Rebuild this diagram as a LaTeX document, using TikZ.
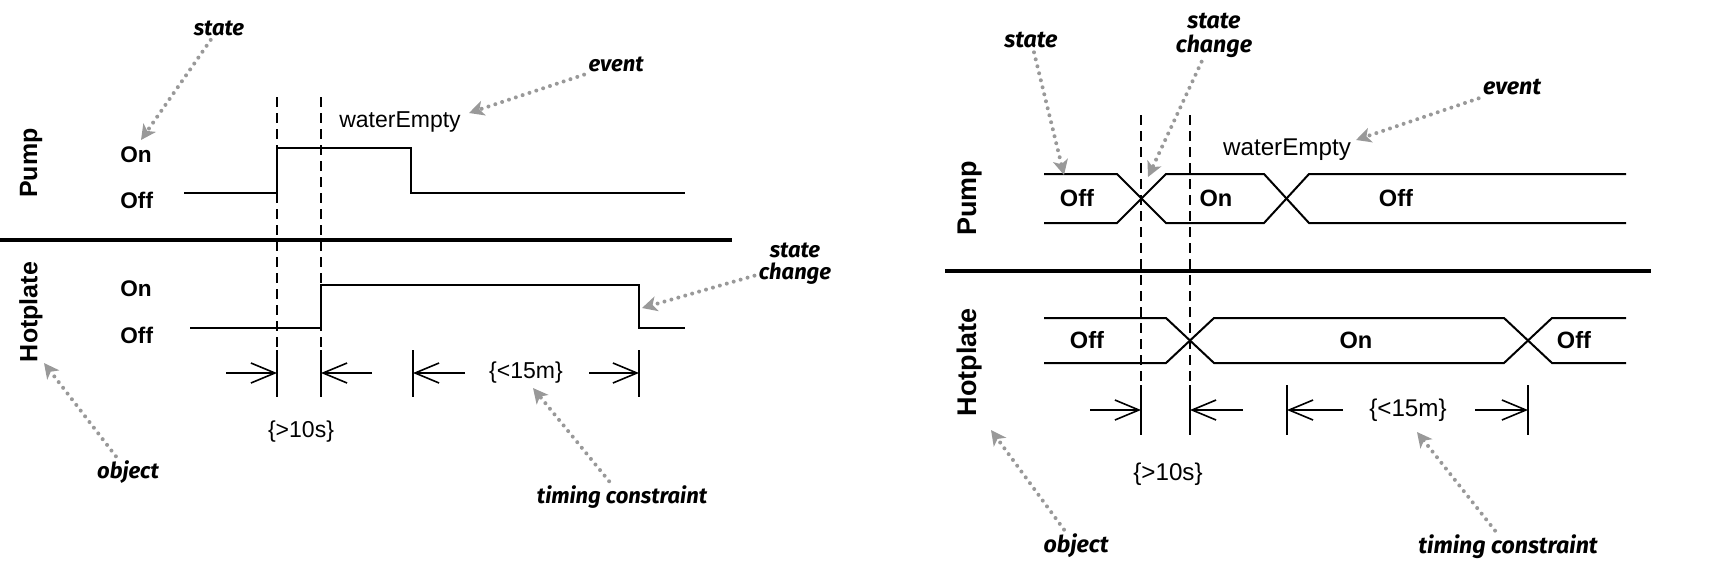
\documentclass[tikz,border=0pt]{standalone}
\usepackage{fontspec}
\setmainfont{Liberation Sans}
\newfontfamily\notefont{Fira Sans}
\usetikzlibrary{arrows.meta}
\definecolor{notegray}{gray}{0.6}
\begin{document}
\begin{tikzpicture}[x=0.5pt,y=-0.5pt,
    signal/.style={line width=1pt},
    divider/.style={line width=2pt},
    guide/.style={line width=0.7pt,dash pattern=on 5pt off 3pt},
    tick/.style={line width=0.8pt},
    span/.style={line width=0.8pt,-{Straight Barb[length=12pt,width=10pt]}},
    lbl/.style={font=\fontsize{11.3}{12}\selectfont\bfseries,inner sep=0pt,anchor=west},
    obj/.style={font=\fontsize{12.5}{13}\selectfont\bfseries,rotate=90,inner sep=0pt},
    txt/.style={font=\fontsize{11.5}{12}\selectfont,inner sep=0pt},
    note/.style={font=\notefont\fontsize{11}{11}\selectfont\bfseries\itshape,align=center,inner sep=2pt},
    notearrow/.style={notegray,line width=2pt,line cap=round,dash pattern=on 0pt off 3.6pt,
        -{Stealth[length=7.5pt,width=7.5pt,inset=2pt]}}]
    \useasboundingbox (0,0) rectangle (1735,575);
    % ---- left: square-wave timing diagram
    \node[obj] (pumpA) at (31,163) {Pump};
    \node[lbl] (pumpAon) at (120,155) {On};
    \node[lbl] (pumpAoff) at (120,200) {Off};
    \node[obj] (hotA) at (31,312) {Hotplate};
    \node[lbl] (hotAon) at (120,289) {On};
    \node[lbl] (hotAoff) at (120,335) {Off};
    \draw[signal] (184,193) -- (277,193) -- (277,148) -- (411,148) -- (411,193) -- (685,193);
    \draw[signal] (190,328) -- (321,328) -- (321,285) -- (639,285) -- (639,328) -- (685,328);
    \draw[divider] (0,240) -- (732,240);
    \foreach \x in {277,321} \draw[guide] (\x,97) -- (\x,350);
    \foreach \x in {277,321,413,639} \draw[tick] (\x,350) -- (\x,397);
    \node[txt] (weA) at (400,122) {waterEmpty};
    \node[txt] (lim15A) at (526,373) {\{<15m\}};
    \node[txt] (lim10A) at (301,432) {\{>10s\}};
    \coordinate (sA1) at (226,373); \coordinate (eA1) at (277,373);
    \coordinate (sA2) at (372,373); \coordinate (eA2) at (321,373);
    \coordinate (sA3) at (465,373); \coordinate (eA3) at (413,373);
    \coordinate (sA4) at (589,373); \coordinate (eA4) at (639,373);
    \foreach \i in {1,...,4} \draw[span] (sA\i) -- (eA\i);
    % notes
    \node[note] (stateA) at (219,28) {state};
    \node[note] (eventA) at (616,64) {event};
    \node[note] (changeA) at (795,264) {state\\change};
    \node[note] (objA) at (128,472) {object};
    \node[note] (timingA) at (622,497) {timing constraint};
    \coordinate (stateAtip) at (141,140);
    \coordinate (eventAtip) at (469,113);
    \coordinate (changeAtip) at (642,308);
    \coordinate (objAtip) at (44,363);
    \coordinate (timingAtip) at (533,388);
    \draw[notearrow] (stateA) -- (stateAtip);
    \draw[notearrow] (eventA) -- (eventAtip);
    \draw[notearrow] (changeA) -- (changeAtip);
    \draw[notearrow] (objA) -- (objAtip);
    \draw[notearrow] (timingA) -- (timingAtip);
    % ---- right: crossing-line timing diagram
    \begin{scope}[lbl/.append style={font=\fontsize{11.8}{12}\selectfont\bfseries,anchor=center},
        obj/.append style={font=\fontsize{13.5}{14}\selectfont\bfseries},
        txt/.append style={font=\fontsize{12.1}{13}\selectfont},
        note/.append style={font=\notefont\fontsize{11.6}{12}\selectfont\bfseries\itshape}]
    \node[obj] (pumpB) at (970,198) {Pump};
    \node[obj] (hotB) at (970,362) {Hotplate};
    \draw[signal] (1044,174) -- (1117,174) -- (1166,223) -- (1264,223) -- (1309,174) -- (1626,174);
    \draw[signal] (1044,223) -- (1117,223) -- (1166,174) -- (1264,174) -- (1309,223) -- (1626,223);
    \draw[signal] (1044,318) -- (1166,318) -- (1214,363) -- (1504,363) -- (1552,318) -- (1626,318);
    \draw[signal] (1044,363) -- (1166,363) -- (1214,318) -- (1504,318) -- (1552,363) -- (1626,363);
    \node[lbl] (pumpBoff) at (1077,198) {Off};
    \node[lbl] (pumpBon) at (1216,198) {On};
    \node[lbl] (pumpBoff2) at (1396,198) {Off};
    \node[lbl] (hotBoff) at (1087,340) {Off};
    \node[lbl] (hotBon) at (1356,340) {On};
    \node[lbl] (hotBoff2) at (1574,340) {Off};
    \draw[divider] (945,271) -- (1651,271);
    \foreach \x in {1141,1190} \draw[guide] (\x,115) -- (\x,385);
    \foreach \x in {1141,1190,1287,1528} \draw[tick] (\x,385) -- (\x,435);
    \node[txt] (weB) at (1287,150) {waterEmpty};
    \node[txt] (lim15B) at (1408,410) {\{<15m\}};
    \node[txt] (lim10B) at (1168,474) {\{>10s\}};
    \coordinate (sB1) at (1090,410); \coordinate (eB1) at (1141,410);
    \coordinate (sB2) at (1243,410); \coordinate (eB2) at (1190,410);
    \coordinate (sB3) at (1343,410); \coordinate (eB3) at (1287,410);
    \coordinate (sB4) at (1475,410); \coordinate (eB4) at (1528,410);
    \foreach \i in {1,...,4} \draw[span] (sB\i) -- (eB\i);
    % notes
    \node[note] (stateB) at (1031,40) {state};
    \node[note] (changeB) at (1214,35) {state\\change};
    \node[note] (eventB) at (1512,87) {event};
    \node[note] (objB) at (1076,546) {object};
    \node[note] (timingB) at (1508,547) {timing constraint};
    \coordinate (stateBtip) at (1064,175);
    \coordinate (changeBtip) at (1148,177);
    \coordinate (eventBtip) at (1356,140);
    \coordinate (objBtip) at (991,430);
    \coordinate (timingBtip) at (1417,432);
    \draw[notearrow] (stateB) -- (stateBtip);
    \draw[notearrow] (changeB) -- (changeBtip);
    \draw[notearrow] (eventB) -- (eventBtip);
    \draw[notearrow] (objB) -- (objBtip);
    \draw[notearrow] (timingB) -- (timingBtip);
    \end{scope}
\end{tikzpicture}
\end{document}
